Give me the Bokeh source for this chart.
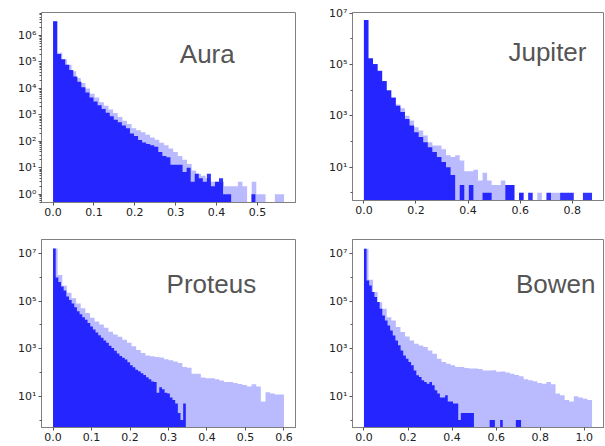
import numpy as np
from bokeh.plotting import figure
from bokeh.layouts import gridplot
from bokeh.models import Range1d, FixedTicker, CustomJSTickFormatter, Label
from bokeh.embed import file_html
from bokeh.resources import INLINE

# ---------------- data (histogram counts) ----------------
names = ["Aura", "Jupiter", "Proteus", "Bowen"]

# Aura
aura_light_max = 0.565
aura_light = [3470000, 224000, 126000, 79000, 45000, 25000, 16000, 10000, 6300, 4500,
              3000, 2240, 1600, 1170, 830, 600, 450, 316, 263, 219,
              178, 141, 115, 89, 71, 54, 40, 28, 20, 14,
              8, 6, 5, 4, 3, 3, 3, 2, 2, 2,
              3, 2, 0, 3, 1, 1, 0, 0, 1, 1]
aura_dark_max = 0.495
aura_dark = [3470000, 200000, 126000, 79000, 50000, 28000, 18000, 11000, 7000, 4500,
             3200, 2300, 1660, 1200, 890, 660, 525, 400, 316, 200,
             158, 112, 91, 79, 71, 63, 40, 28, 25, 13,
             13, 13, 7, 10, 3, 6, 4, 3, 6, 2,
             3, 4, 1, 1, 0, 0, 0, 0, 0, 1]

# Jupiter
jupiter_light_max = 0.876
jupiter_light = [5400000, 170000, 100000, 55000, 22000, 9500, 5000, 2800, 2000, 1000,
                 660, 360, 270, 170, 93, 70, 70, 50, 29, 25,
                 29, 18, 7, 7, 8, 3, 6, 3, 2, 2,
                 3, 2, 2, 0, 1, 0, 0, 0, 1, 0,
                 0, 1, 1, 0, 0, 0, 0, 0, 0, 0]
jupiter_dark_max = 0.876
jupiter_dark = [5500000, 178000, 105000, 58000, 23000, 10000, 5200, 2500, 1400, 760,
                420, 230, 150, 93, 60, 39, 25, 16, 10, 5,
                0, 2, 0, 2, 0, 0, 1, 1, 0, 0,
                0, 2, 2, 0, 1, 0, 1, 0, 0, 0,
                1, 0, 0, 1, 1, 1, 0, 0, 1, 1]

# Proteus
proteus_light_max = 0.60
proteus_light = [16200000, 1260000, 447000, 224000, 132000, 79000, 50000, 32000, 20000, 14000,
                 10500, 7600, 5200, 4000, 3200, 2400, 1800, 1260, 890, 660,
                 520, 480, 450, 430, 360, 330, 290, 250, 170, 160,
                 89, 89, 62, 58, 58, 52, 46, 40, 40, 36,
                 33, 30, 26, 32, 26, 6, 15, 13, 12, 12]
proteus_dark_max = 0.345
proteus_dark = [16200000, 977000, 631000, 417000, 282000, 158000, 112000, 79000, 56000, 38000,
                28000, 21000, 16600, 12000, 8500, 6500, 4800, 3700, 2900, 2200,
                1800, 1350, 1070, 830, 630, 500, 420, 350, 270, 200,
                166, 132, 112, 93, 79, 63, 52, 42, 40, 14,
                24, 20, 14, 13, 9, 7, 5, 2, 1, 5]

# Bowen
bowen_light_max = 1.035
bowen_light = [15800000, 800000, 240000, 89000, 48000, 21000, 15500, 8100, 5000, 3300,
               2240, 1620, 1380, 1170, 850, 620, 380, 275, 234, 200,
               170, 170, 155, 148, 148, 141, 123, 123, 126, 107,
               110, 100, 89, 79, 69, 52, 47, 43, 36, 34,
               40, 32, 13, 11, 7, 6, 10, 9, 8, 7]
bowen_dark_max = 0.713
bowen_dark = [15800000, 741000, 457000, 240000, 148000, 91000, 48000, 25000, 15500, 9500,
              5900, 3600, 2200, 1400, 850, 520, 380, 275, 200, 123,
              76, 65, 47, 40, 34, 40, 29, 18, 13, 9,
              9, 11, 6, 6, 5, 5, 1, 2, 2, 2,
              2, 2, 0, 0, 0, 0, 0, 0, 1, 1,
              0, 0, 1, 0, 0, 0, 0, 0, 1, 1]

# tick values
aura_xticks = [0.0, 0.1, 0.2, 0.3, 0.4, 0.5]
jupiter_xticks = [0.0, 0.2, 0.4, 0.6, 0.8]
proteus_xticks = [0.0, 0.1, 0.2, 0.3, 0.4, 0.5, 0.6]
bowen_xticks = [0.0, 0.2, 0.4, 0.6, 0.8, 1.0]
aura_yticks = [1, 10, 100, 1000, 10000, 100000, 1000000]
odd_yticks = [10, 1000, 100000, 10000000]

# ---------------- styling helpers ----------------
SUP_JS = """
const sup = {'0':'\u2070','1':'\u00b9','2':'\u00b2','3':'\u00b3','4':'\u2074','5':'\u2075',
             '6':'\u2076','7':'\u2077','8':'\u2078','9':'\u2079','-':'\u207b'};
const e = Math.round(Math.log10(tick));
return '10' + String(e).split('').map(c => sup[c]).join('');
"""

AX = "#808080"


def step_outline(mx, counts, bottom):
    """Histogram outline (one polygon, no seams between bins)."""
    c = np.array(counts, dtype=float)
    edges = np.linspace(0.0, mx, len(c) + 1)
    h = np.where(c > 0, c, bottom)
    xs = [0.0]
    ys = [bottom]
    for i in range(len(c)):
        xs += [edges[i], edges[i + 1]]
        ys += [h[i], h[i]]
    xs.append(mx)
    ys.append(bottom)
    return xs, ys


def panel(title, lmax, lcounts, dmax, dcounts, xr, yr, xticks, yticks, yminor,
          lab_x, lab_y, fw, fh, bl, br, bt, bb):
    p = figure(frame_width=fw, frame_height=fh,
               min_border_left=bl, min_border_right=br,
               min_border_top=bt, min_border_bottom=bb,
               x_range=Range1d(*xr), y_range=Range1d(*yr),
               y_axis_type="log", output_backend="svg", toolbar_location=None)
    bottom = yr[0] / 10.0
    for mx, counts, alpha in ((lmax, lcounts, 0.27), (dmax, dcounts, 0.8)):
        xs, ys = step_outline(mx, counts, bottom)
        p.patch(xs, ys, fill_color="blue", fill_alpha=alpha, line_color=None)
    p.xgrid.visible = False
    p.ygrid.visible = False
    p.outline_line_color = AX
    p.outline_line_width = 1
    p.xaxis.ticker = FixedTicker(ticks=xticks)
    p.xaxis.formatter = CustomJSTickFormatter(code="return tick.toFixed(1);")
    p.yaxis.ticker = FixedTicker(ticks=yticks, minor_ticks=yminor)
    p.yaxis.formatter = CustomJSTickFormatter(code=SUP_JS)
    for ax in (p.xaxis, p.yaxis):
        ax.axis_line_color = AX
        ax.major_tick_line_color = "#555555"
        ax.minor_tick_line_color = "#555555"
        ax.major_tick_out = 3
        ax.major_tick_in = 0
        ax.minor_tick_out = 2
        ax.minor_tick_in = 0
        ax.major_label_standoff = 2
        ax.major_label_text_font = "DejaVu Sans"
        ax.major_label_text_font_size = "11px"
        ax.major_label_text_color = "#222222"
    p.xaxis.minor_tick_line_color = None
    p.add_layout(Label(x=lab_x, y=lab_y, text=title, text_font="Liberation Sans",
                       text_font_size="26px", text_color="#555555",
                       text_align="left", text_baseline="alphabetic"))
    return p


aura_minor = [k * 10.0 ** d for d in range(-1, 7) for k in range(2, 10)]
odd_minor = [1, 100, 10000, 1000000]

p1 = panel(names[0], aura_light_max, aura_light, aura_dark_max, aura_dark,
           (-0.0283, 0.593), (10 ** -0.31, 10 ** 6.87), aura_xticks, aura_yticks, aura_minor,
           0.31, 10 ** 5.29, 254, 190, 41, 7, 10, 22)
p2 = panel(names[1], jupiter_light_max, jupiter_light, jupiter_dark_max, jupiter_dark,
           (-0.0438, 0.92), (10 ** -0.3, 10 ** 7.03), jupiter_xticks, odd_yticks, odd_minor,
           0.555, 10 ** 5.50, 251, 188, 50, 1, 12, 22)
p3 = panel(names[2], proteus_light_max, proteus_light, proteus_dark_max, proteus_dark,
           (-0.030, 0.63), (10 ** -0.31, 10 ** 7.59), proteus_xticks, odd_yticks, odd_minor,
           0.295, 10 ** 5.70, 254, 188, 41, 7, 17, 18)
p4 = panel(names[3], bowen_light_max, bowen_light, bowen_dark_max, bowen_dark,
           (-0.052, 1.087), (10 ** -0.31, 10 ** 7.59), bowen_xticks, odd_yticks, odd_minor,
           0.69, 10 ** 5.70, 251, 188, 50, 1, 17, 18)

grid = gridplot([[p1, p2], [p3, p4]], toolbar_location=None)

open("out.html", "w").write(file_html(grid, INLINE))
